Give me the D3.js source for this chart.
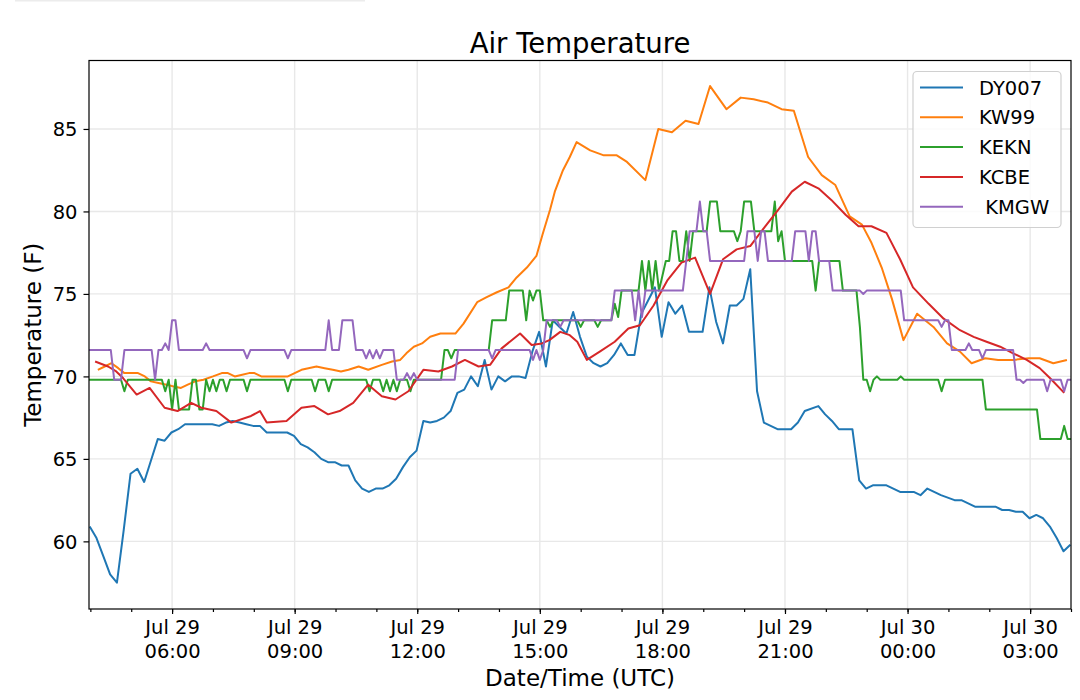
<!DOCTYPE html>
<html>
<head>
<meta charset="utf-8">
<script src="https://cdn.jsdelivr.net/npm/d3@7"></script>
<style>
  body { margin: 0; background: #fff; }
  svg { display: block; font-family: "DejaVu Sans", sans-serif; }
  .legend text { white-space: pre; }
</style>
</head>
<body>
<div id="chart"></div>
<script>
// station names as shown in the legend (KMGW has a leading space in the original)
const stations = ["DY007", "KW99", "KEKN", "KCBE", " KMGW"];
const colors = ["#1f77b4", "#ff7f0e", "#2ca02c", "#d62728", "#9467bd"];

// readings: [minutes after Jul 29 00:00 UTC, air temperature in F]
const dy007 = [[239,60.9],[249,60.2],[259,59.1],[269,58.0],[279,57.5],[289,60.7],[299,64.1],[309,64.4],[319,63.6],[329,64.9],
  [339,66.2],[349,66.1],[359,66.6],[369,66.8],[379,67.1],[419,67.1],[429,67.0],[439,67.2],[449,67.3],[459,67.2],
  [469,67.1],[479,67.0],[489,67.0],[499,66.6],[529,66.6],[539,66.4],[549,65.9],[559,65.7],[569,65.4],[579,65.0],
  [589,64.8],[599,64.8],[609,64.6],[619,64.6],[629,63.7],[639,63.2],[649,63.0],[659,63.2],[669,63.2],[679,63.4],
  [689,63.8],[699,64.5],[709,65.1],[719,65.5],[729,67.3],[739,67.2],[749,67.3],[759,67.5],[769,67.9],[779,69.0],
  [789,69.2],[799,70.0],[809,69.4],[819,71.0],[829,69.2],[839,70.0],[849,69.7],[859,70.0],[869,70.0],[879,69.9],
  [889,71.5],[899,72.7],[909,70.6],[919,73.4],[929,73.0],[939,72.6],[949,73.9],[959,72.4],[969,71.2],[979,70.8],
  [989,70.6],[999,70.8],[1009,71.3],[1019,72.0],[1029,71.3],[1039,71.3],[1049,73.8],[1059,74.6],[1069,75.4],[1079,72.4],
  [1089,74.5],[1099,73.8],[1109,74.3],[1119,72.7],[1139,72.7],[1149,75.4],[1159,73.3],[1169,72.0],[1179,74.3],[1189,74.3],
  [1199,74.7],[1209,76.5],[1219,69.1],[1229,67.2],[1249,66.8],[1269,66.8],[1279,67.2],[1289,67.9],[1309,68.2],[1319,67.7],
  [1329,67.3],[1339,66.8],[1359,66.8],[1369,63.7],[1379,63.2],[1389,63.4],[1409,63.4],[1429,63.0],[1449,63.0],[1459,62.8],
  [1469,63.2],[1489,62.8],[1509,62.5],[1519,62.5],[1539,62.1],[1569,62.1],[1579,61.9],[1589,61.9],[1599,61.8],[1609,61.8],
  [1619,61.4],[1629,61.6],[1639,61.4],[1649,60.9],[1659,60.2],[1669,59.4],[1679,59.8]];

const kw99 = [[251,70.4],[261,70.6],[271,70.8],[281,70.5],[290,70.2],[310,70.2],[320,70.0],[329,69.7],[340,69.6],[352,69.5],
  [361,69.4],[373,69.3],[383,69.5],[394,69.7],[406,69.8],[420,70.0],[433,70.2],[442,70.2],[452,70.0],[463,70.1],
  [473,70.2],[481,70.2],[491,70.0],[530,70.0],[540,70.2],[550,70.4],[572,70.6],[584,70.5],[596,70.4],[608,70.3],
  [619,70.4],[634,70.6],[648,70.4],[668,70.7],[683,70.9],[695,71.0],[704,71.4],[715,71.8],[727,72.0],[739,72.4],
  [754,72.6],[776,72.6],[788,73.2],[808,74.5],[822,74.8],[837,75.1],[854,75.4],[866,76.0],[881,76.6],[895,77.3],
  [904,78.6],[915,80.1],[922,81.2],[934,82.5],[944,83.3],[954,84.2],[974,83.7],[994,83.4],[1013,83.4],[1028,83.0],
  [1055,81.9],[1074,85.0],[1094,84.8],[1114,85.5],[1133,85.3],[1150,87.6],[1174,86.2],[1195,86.9],[1214,86.8],[1235,86.6],
  [1255,86.2],[1273,86.1],[1294,83.3],[1314,82.2],[1334,81.6],[1355,79.7],[1373,79.2],[1387,78.1],[1402,76.6],[1417,74.7],
  [1434,72.2],[1454,73.8],[1478,73.0],[1498,72.0],[1517,71.5],[1534,70.8],[1554,71.1],[1573,71.0],[1595,71.0],[1618,71.1],
  [1634,71.1],[1654,70.8],[1674,71.0]];

const kekn = [[238,69.8],[285,69.8],[290,69.1],[295,69.8],[345,69.8],[350,69.1],[355,69.8],[360,68.0],[365,69.8],[370,68.0],
  [385,68.0],[390,69.8],[395,69.8],[400,68.0],[405,68.0],[410,69.8],[415,69.1],[420,69.8],[425,69.1],[430,69.8],
  [435,69.8],[440,69.1],[445,69.8],[465,69.8],[470,69.1],[475,69.8],[525,69.8],[530,69.1],[535,69.8],[565,69.8],
  [570,69.1],[575,69.8],[585,69.8],[590,69.1],[595,69.8],[645,69.8],[650,69.1],[655,69.8],[665,69.8],[670,69.1],
  [675,69.8],[680,69.1],[685,69.8],[690,69.1],[695,69.8],[705,69.8],[710,69.1],[715,69.8],[755,69.8],[760,71.6],
  [765,71.6],[770,71.1],[775,71.6],[825,71.6],[830,73.4],[850,73.4],[855,75.2],[875,75.2],[880,73.4],[885,75.2],
  [890,74.6],[895,75.2],[900,75.2],[905,73.4],[910,73.4],[915,73.0],[920,73.4],[955,73.4],[960,73.0],[965,73.4],
  [980,73.4],[985,73.0],[990,73.4],[1005,73.4],[1010,74.4],[1015,73.6],[1020,75.2],[1045,75.2],[1050,77.0],[1055,75.2],
  [1060,77.0],[1065,75.2],[1070,77.0],[1075,75.2],[1085,77.0],[1090,77.0],[1095,78.8],[1100,78.8],[1105,77.0],[1110,77.0],
  [1115,78.8],[1120,77.0],[1125,78.8],[1145,78.8],[1150,80.6],[1160,80.6],[1165,78.8],[1185,78.8],[1190,78.2],[1195,78.8],
  [1200,80.6],[1210,80.6],[1215,78.8],[1240,78.8],[1245,80.6],[1250,78.2],[1255,78.8],[1260,77.0],[1300,77.0],[1305,75.2],
  [1310,77.0],[1340,77.0],[1345,75.2],[1365,75.2],[1370,73.0],[1375,69.8],[1380,69.8],[1385,69.1],[1390,69.8],[1395,70.0],
  [1400,69.8],[1425,69.8],[1430,70.0],[1435,69.8],[1485,69.8],[1490,69.1],[1495,69.8],[1550,69.8],[1555,68.0],[1630,68.0],
  [1635,66.2],[1665,66.2],[1670,67.0],[1675,66.2],[1680,66.2]];

const kcbe = [[247,70.9],[266,70.6],[278,70.3],[288,69.9],[308,68.9],[327,69.3],[349,68.1],[368,67.9],[388,68.4],[403,68.1],
  [425,67.9],[447,67.2],[476,67.6],[489,67.9],[499,67.2],[528,67.3],[550,68.1],[569,68.2],[589,67.7],[606,67.9],
  [626,68.4],[648,69.5],[668,68.8],[688,68.6],[707,69.1],[729,70.4],[751,70.3],[771,70.6],[790,71.0],[810,70.6],
  [827,70.7],[844,71.7],[871,72.6],[888,71.9],[903,72.0],[914,72.2],[930,72.7],[944,72.5],[955,72.1],[969,71.0],
  [988,71.5],[1010,72.1],[1030,72.9],[1047,73.1],[1067,74.3],[1087,75.8],[1108,76.9],[1128,77.2],[1150,75.0],[1169,77.1],
  [1189,77.7],[1209,77.9],[1231,79.1],[1250,80.1],[1270,81.2],[1289,81.8],[1309,81.4],[1328,80.7],[1349,79.8],[1368,79.1],
  [1387,79.1],[1409,78.7],[1429,77.1],[1448,75.4],[1471,74.4],[1493,73.5],[1517,72.8],[1537,72.4],[1556,72.1],[1576,71.8],
  [1595,71.4],[1615,71.0],[1634,70.5],[1649,69.9],[1670,69.0]];

const kmgw = [[238,71.6],[270,71.6],[275,69.8],[285,69.8],[290,71.6],[330,71.6],[335,69.8],[340,71.6],[345,71.6],[350,72.0],
  [355,71.6],[360,73.4],[365,73.4],[370,71.6],[405,71.6],[410,72.0],[415,71.6],[465,71.6],[470,71.1],[475,71.6],
  [525,71.6],[530,71.1],[535,71.6],[585,71.6],[590,73.4],[595,71.6],[605,71.6],[610,73.4],[625,73.4],[630,71.6],
  [640,71.6],[645,71.1],[650,71.6],[655,71.1],[660,71.6],[665,71.1],[670,71.6],[685,71.6],[690,69.8],[700,69.8],
  [705,70.2],[710,69.8],[715,70.2],[720,69.8],[775,69.8],[780,71.6],[825,71.6],[830,71.1],[835,71.6],[885,71.6],
  [890,71.0],[895,71.6],[900,71.0],[905,71.6],[910,73.4],[925,73.4],[930,73.0],[935,73.4],[1005,73.4],[1010,75.2],
  [1035,75.2],[1040,73.4],[1045,75.2],[1050,73.6],[1055,75.2],[1110,75.2],[1115,77.0],[1120,78.8],[1130,78.8],[1135,80.6],
  [1140,78.8],[1145,78.8],[1150,77.0],[1200,77.0],[1205,78.8],[1215,78.8],[1220,77.0],[1225,78.8],[1230,78.8],[1235,77.0],
  [1270,77.0],[1275,78.8],[1290,78.8],[1295,77.0],[1300,78.8],[1305,78.8],[1310,77.0],[1325,77.0],[1330,75.2],[1370,75.2],
  [1375,75.0],[1380,75.2],[1430,75.2],[1435,73.4],[1485,73.4],[1490,73.0],[1495,73.4],[1500,73.4],[1505,71.6],[1525,71.6],
  [1530,72.0],[1535,71.6],[1545,71.6],[1550,71.1],[1555,71.6],[1595,71.6],[1600,69.8],[1605,69.8],[1610,69.6],[1615,69.8],
  [1640,69.8],[1645,69.1],[1650,69.8],[1665,69.8],[1670,69.1],[1675,69.8],[1680,69.8]];

const series = [dy007, kw99, kekn, kcbe, kmgw];

// axis settings
const yTicks = [60, 65, 70, 75, 80, 85];
const yExtent = [55.9, 89.15];
const timeExtent = [238, 1680]; // minutes after Jul 29 00:00 UTC
const day0 = Date.UTC(2019, 6, 29);
const toDate = m => new Date(day0 + m * 60000);

// set the dimensions of the figure and the axes box
const width = 1080;
const height = 700;
const box = { left: 89, right: 1071, top: 60.5, bottom: 609 };

var svg = d3.select("#chart")
    .append("svg")
    .attr("width", width)
    .attr("height", height);

// faint strip at the top left of the original screenshot
svg.append("line")
    .attr("x1", 15).attr("x2", 365)
    .attr("y1", 0.75).attr("y2", 0.75)
    .style("stroke", "#ececec")
    .style("stroke-width", 1.5);

var x = d3.scaleUtc()
    .domain(timeExtent.map(toDate))
    .range([box.left, box.right]);

var y = d3.scaleLinear()
    .domain(yExtent)
    .range([box.bottom, box.top]);

const majorTicks = x.ticks(d3.utcHour.every(3));
const minorTicks = x.ticks(d3.utcHour.every(1));

// grid
var grid = svg.append("g").attr("class", "grid");
grid.selectAll(".gx")
    .data(majorTicks)
    .enter().append("line")
    .attr("x1", d => x(d)).attr("x2", d => x(d))
    .attr("y1", box.top).attr("y2", box.bottom);
grid.selectAll(".gy")
    .data(yTicks)
    .enter().append("line")
    .attr("x1", box.left).attr("x2", box.right)
    .attr("y1", d => y(d)).attr("y2", d => y(d));
grid.selectAll("line")
    .style("stroke", "#e8e8e8")
    .style("stroke-width", 1.4);

// clip the lines to the axes box
svg.append("clipPath")
    .attr("id", "clip")
    .append("rect")
    .attr("x", box.left).attr("y", box.top)
    .attr("width", box.right - box.left)
    .attr("height", box.bottom - box.top);

var line = d3.line()
    .x(d => x(toDate(d[0])))
    .y(d => y(d[1]));

svg.append("g")
    .attr("clip-path", "url(#clip)")
    .selectAll(".series")
    .data(series)
    .enter().append("path")
    .attr("class", "series")
    .attr("d", line)
    .style("fill", "none")
    .style("stroke", (d, i) => colors[i])
    .style("stroke-width", 2)
    .style("stroke-linejoin", "round");

// x axis: minor hourly ticks, then labelled ticks every 3 hours
svg.append("g")
    .attr("transform", "translate(0," + box.bottom + ")")
    .call(d3.axisBottom(x).tickValues(minorTicks).tickSize(3).tickFormat(""))
    .call(g => g.select(".domain").remove());

const fmtDay = d3.utcFormat("%b %d");
const fmtTime = d3.utcFormat("%H:%M");

var gx = svg.append("g")
    .attr("transform", "translate(0," + box.bottom + ")")
    .call(d3.axisBottom(x).tickValues(majorTicks).tickSize(5))
    .call(g => g.select(".domain").remove());

gx.selectAll(".tick text").each(function (d) {
    var t = d3.select(this).text(null).attr("y", null).attr("dy", null);
    t.append("tspan").attr("x", 0).attr("y", 25).text(fmtDay(d));
    t.append("tspan").attr("x", 0).attr("y", 49).text(fmtTime(d));
});

var gy = svg.append("g")
    .attr("transform", "translate(" + box.left + ",0)")
    .call(d3.axisLeft(y).tickValues(yTicks).tickSize(5.5).tickPadding(6))
    .call(g => g.select(".domain").remove());

svg.selectAll(".tick line").style("stroke", "#000").style("stroke-width", 1.2);
svg.selectAll(".tick text")
    .style("font-family", "DejaVu Sans")
    .style("font-size", "19.5px")
    .style("fill", "#000");
gy.selectAll(".tick text").attr("dy", "0.35em");

// axes frame
svg.append("rect")
    .attr("x", box.left).attr("y", box.top)
    .attr("width", box.right - box.left)
    .attr("height", box.bottom - box.top)
    .style("fill", "none")
    .style("stroke", "#000")
    .style("stroke-width", 1.2);

// title and axis labels
const midX = (box.left + box.right) / 2;
svg.append("text")
    .attr("x", midX).attr("y", 53)
    .attr("text-anchor", "middle")
    .style("font-size", "27.5px")
    .text("Air Temperature");

svg.append("text")
    .attr("x", midX).attr("y", 686)
    .attr("text-anchor", "middle")
    .style("font-size", "23px")
    .text("Date/Time (UTC)");

svg.append("text")
    .attr("transform", "translate(41," + ((box.top + box.bottom) / 2) + ") rotate(-90)")
    .attr("text-anchor", "middle")
    .style("font-size", "23px")
    .text("Temperature (F)");

// legend
var legend = svg.append("g").attr("class", "legend");
legend.append("rect")
    .attr("x", 913).attr("y", 71.5)
    .attr("width", 148).attr("height", 156)
    .attr("rx", 4)
    .style("fill", "#fff")
    .style("fill-opacity", 0.8)
    .style("stroke", "#d0d0d0")
    .style("stroke-width", 1.2);

var item = legend.selectAll(".item")
    .data(stations)
    .enter().append("g")
    .attr("class", "item")
    .attr("transform", (d, i) => "translate(0," + (87.5 + i * 29.8) + ")");

item.append("line")
    .attr("x1", 920).attr("x2", 963)
    .style("stroke", (d, i) => colors[i])
    .style("stroke-width", 2);

item.append("text")
    .attr("x", 979)
    .attr("dy", "0.36em")
    .style("font-size", "19.5px")
    .text(d => d);
</script>
</body>
</html>
